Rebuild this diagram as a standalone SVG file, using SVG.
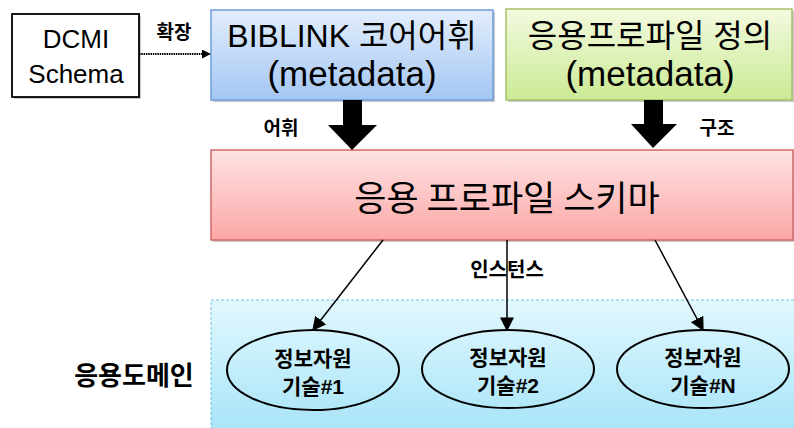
<svg xmlns="http://www.w3.org/2000/svg" width="794" height="428" viewBox="0 0 794 428">
<defs>
<linearGradient id="gBlue" x1="0" y1="0" x2="0" y2="1"><stop offset="0" stop-color="#e3eefc"/><stop offset="1" stop-color="#a3c6f3"/></linearGradient>
<linearGradient id="gGreen" x1="0" y1="0" x2="0" y2="1"><stop offset="0" stop-color="#f3fadf"/><stop offset="1" stop-color="#cbea95"/></linearGradient>
<linearGradient id="gRed" x1="0" y1="0" x2="0" y2="1"><stop offset="0" stop-color="#fee3e3"/><stop offset="1" stop-color="#fba7a6"/></linearGradient>
<linearGradient id="gCyan" x1="0" y1="0" x2="0" y2="1"><stop offset="0" stop-color="#e2f8fe"/><stop offset="1" stop-color="#a3e3f7"/></linearGradient>
<marker id="arr" viewBox="0 0 10 10" refX="9" refY="5" markerWidth="9" markerHeight="9" markerUnits="userSpaceOnUse" orient="auto"><path d="M0,0 L10,5 L0,10 z" fill="#000"/></marker>
<marker id="arrL" viewBox="0 0 10 10" refX="9" refY="5" markerWidth="14" markerHeight="14" markerUnits="userSpaceOnUse" orient="auto"><path d="M0,0 L10,5 L0,10 z" fill="#000"/></marker>
</defs>
<style>
text{font-family:"Noto Sans CJK KR","Noto Sans",sans-serif;fill:#000;text-anchor:middle}
.lat{font-family:"Liberation Sans","Noto Sans CJK KR",sans-serif}
.big{font-size:32px}
.meta{font-size:35px}
.mid{font-size:26px}
.lbl{font-size:19px;font-weight:bold}
.ell{font-size:21px;font-weight:bold}
.shadow{fill:#c8c8c8}
.conn{stroke:#000;stroke-width:1.5;fill:none}
</style>
<rect width="794" height="428" fill="#fff"/>

<g id="dcmi">
<rect x="14" y="16" width="127" height="83" class="shadow"/>
<rect x="12" y="14" width="127" height="83" fill="#fff" stroke="#000" stroke-width="1.8"/>
<text class="lat mid" x="76" y="48">DCMI</text>
<text class="lat mid" x="76" y="83">Schema</text>
</g>

<g id="biblink">
<rect x="213" y="12" width="282" height="90" class="shadow"/>
<rect x="211" y="10" width="282" height="90" fill="url(#gBlue)" stroke="#6f9ddc" stroke-width="1.5"/>
<text class="lat big" x="352" y="47">BIBLINK 코어어휘</text>
<text class="lat meta" x="352" y="86">(metadata)</text>
</g>

<g id="profile-def">
<rect x="508" y="11" width="286" height="91" class="shadow"/>
<rect x="506" y="9" width="286" height="91" fill="url(#gGreen)" stroke="#a4c167" stroke-width="1.5"/>
<text class="lat big" x="650" y="47">응용프로파일 정의</text>
<text class="lat meta" x="650" y="86">(metadata)</text>
</g>

<g id="schema">
<rect x="213" y="152" width="581" height="90" class="shadow"/>
<rect x="211" y="150" width="582" height="90" fill="url(#gRed)" stroke="#d06866" stroke-width="1.5"/>
<text x="507" y="211" style="font-size:35px">응용 프로파일 스키마</text>
</g>

<g id="domain">
<rect x="211" y="300" width="590" height="140" fill="url(#gCyan)" stroke="#6fc4dc" stroke-width="1" stroke-dasharray="3 2"/>
<text x="134" y="385" style="font-size:26px;font-weight:bold">응용도메인</text>
</g>

<g id="res1">
<ellipse cx="313" cy="370" rx="86" ry="40" fill="none" stroke="#000" stroke-width="2"/>
<text class="ell" x="313" y="366">정보자원</text>
<text class="ell lat" x="313" y="394">기술#1</text>
</g>
<g id="res2">
<ellipse cx="508" cy="369" rx="86" ry="39" fill="none" stroke="#000" stroke-width="2"/>
<text class="ell" x="508" y="365">정보자원</text>
<text class="ell lat" x="508" y="393">기술#2</text>
</g>
<g id="resN">
<ellipse cx="703" cy="369" rx="86" ry="39" fill="none" stroke="#000" stroke-width="2"/>
<text class="ell" x="703" y="365">정보자원</text>
<text class="ell lat" x="703" y="393">기술#N</text>
</g>

<g id="connectors">
<line x1="139" y1="54" x2="210" y2="54" stroke="#000" stroke-width="2" stroke-dasharray="1.5 0.8" marker-end="url(#arr)"/>
<path d="M343,100 H362 V125 H377 L352,150 L328,125 H343 Z" fill="#000"/>
<path d="M644,100 H663 V124 H677 L653,148 L631,124 H644 Z" fill="#000"/>
<line class="conn" x1="383" y1="240" x2="313" y2="330" marker-end="url(#arrL)"/>
<line class="conn" x1="507" y1="240" x2="507" y2="330" marker-end="url(#arrL)"/>
<line class="conn" x1="655" y1="240" x2="703" y2="330" marker-end="url(#arrL)"/>
<text class="lbl" x="174" y="39">확장</text>
<text class="lbl" x="281" y="135">어휘</text>
<text class="lbl" x="717" y="135">구조</text>
<text x="507" y="277" style="font-size:20px;font-weight:bold">인스턴스</text>
</g>
</svg>
